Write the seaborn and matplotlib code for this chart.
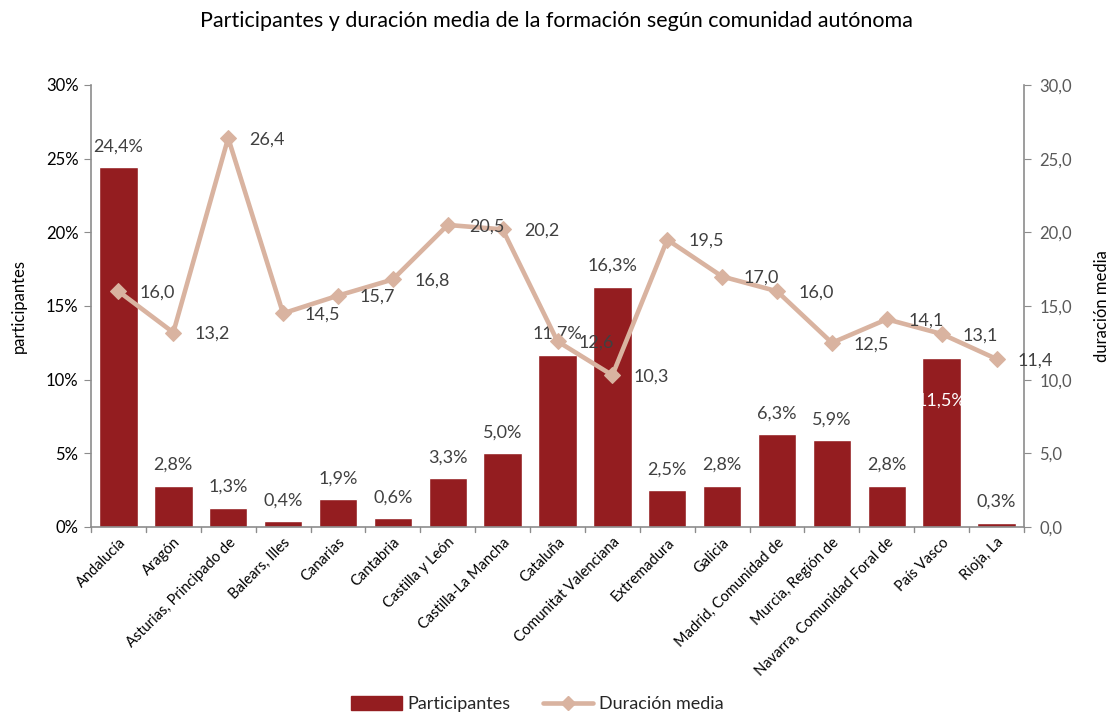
import matplotlib
matplotlib.use("Agg")
import matplotlib.pyplot as plt
import seaborn as sns
import numpy as np
import pandas as pd
from matplotlib.lines import Line2D
from matplotlib.patches import Patch

# Datos
comunidades = ["Andalucía", "Aragón", "Asturias, Principado de", "Balears, Illes",
               "Canarias", "Cantabria", "Castilla y León", "Castilla-La Mancha",
               "Cataluña", "Comunitat Valenciana", "Extremadura", "Galicia",
               "Madrid, Comunidad de", "Murcia, Región de", "Navarra, Comunidad Foral de",
               "País Vasco", "Rioja, La"]
participantes = [24.4, 2.8, 1.3, 0.4, 1.9, 0.6, 3.3, 5.0, 11.7, 16.3, 2.5, 2.8,
                 6.3, 5.9, 2.8, 11.5, 0.3]
duracion = [16.0, 13.2, 26.4, 14.5, 15.7, 16.8, 20.5, 20.2, 12.6, 10.3, 19.5, 17.0,
            16.0, 12.5, 14.1, 13.1, 11.4]

bar_color = "#941D20"
line_color = "#D9B3A0"
txt_color = "#404040"
axis_color = "#8C8C8C"

sns.set_style("white")
plt.rcParams["font.family"] = ["Lato", "DejaVu Sans"]

df = pd.DataFrame({"comunidad": comunidades, "participantes": participantes,
                   "duracion": duracion})

fig = plt.figure(figsize=(11.12, 7.13), dpi=100)
ax = fig.add_axes([0.0818, 0.2609, 0.8391, 0.6199])

sns.barplot(data=df, x="comunidad", y="participantes", color=bar_color,
            width=0.7, saturation=1, ax=ax)
ax.set_xlim(-0.5, len(comunidades) - 0.5)
ax.set_ylim(0, 30)
ax.set_yticks(range(0, 31, 5))
ax.set_yticklabels([f"{v}%" for v in range(0, 31, 5)], fontsize=12, color="black")
ax.set_xticks(np.arange(len(comunidades)))
ax.set_xticklabels(comunidades, rotation=45, ha="right", rotation_mode="anchor",
                   fontsize=10.5, color="black")
ax.tick_params(axis="x", length=0, pad=6)
ax.tick_params(axis="y", length=5, color=axis_color, direction="out", left=True, pad=4)
# marcas entre categorías
for b in np.arange(len(comunidades) + 1) - 0.5:
    ax.plot([b, b], [0, -0.012], transform=ax.get_xaxis_transform(),
            color=axis_color, lw=1, clip_on=False)
ax.set_xlabel("")
ax.set_ylabel("participantes", fontsize=12, color="black", labelpad=14)

for s in ["top", "right"]:
    ax.spines[s].set_visible(False)
for s in ["left", "bottom"]:
    ax.spines[s].set_color(axis_color)
    ax.spines[s].set_linewidth(1.2)

# etiquetas de barras
for i, v in enumerate(participantes):
    lbl = f"{v:.1f}%".replace(".", ",")
    if comunidades[i] == "País Vasco":
        ax.annotate(lbl, (i, v), xytext=(0, -31), textcoords="offset points",
                    ha="center", va="center", fontsize=13, color="white")
    else:
        ax.annotate(lbl, (i, v), xytext=(0, 15), textcoords="offset points",
                    ha="center", va="center", fontsize=13, color=txt_color)

ax2 = ax.twinx()
sns.lineplot(x=np.arange(len(comunidades)), y=duracion, ax=ax2, color=line_color,
             lw=3.3, marker="D", markersize=8.5, markeredgecolor=line_color)
ax2.set_ylim(0, 30)
ax2.set_yticks(range(0, 31, 5))
ax2.set_yticklabels([f"{v:.1f}".replace(".", ",") for v in range(0, 31, 5)],
                    fontsize=12, color="#595959")
ax2.tick_params(axis="y", length=5, color=axis_color, direction="out", right=True, pad=6)
ax2.set_ylabel("duración media", fontsize=12, color="black", rotation=90, labelpad=16)
for s in ["top", "left", "bottom"]:
    ax2.spines[s].set_visible(False)
ax2.spines["right"].set_color(axis_color)
ax2.spines["right"].set_linewidth(1.2)

for i, v in enumerate(duracion):
    ax2.annotate(f"{v:.1f}".replace(".", ","), (i, v), xytext=(28, -1),
                 textcoords="offset points", ha="center", va="center",
                 fontsize=13, color=txt_color)

fig.suptitle("Participantes y duración media de la formación según comunidad autónoma",
             x=0.5, y=0.985, fontsize=15.5, color="black")

handles = [Patch(facecolor=bar_color, edgecolor=bar_color),
           Line2D([0], [0], color=line_color, lw=3.3, marker="D", markersize=7)]
fig.legend(handles, ["Participantes", "Duración media"], loc="lower center",
           bbox_to_anchor=(0.483, -0.022), ncol=2, frameon=False, fontsize=13,
           handlelength=2.8, handleheight=0.8, columnspacing=1.8, handletextpad=0.3)

fig.savefig("out.png", dpi=100)
